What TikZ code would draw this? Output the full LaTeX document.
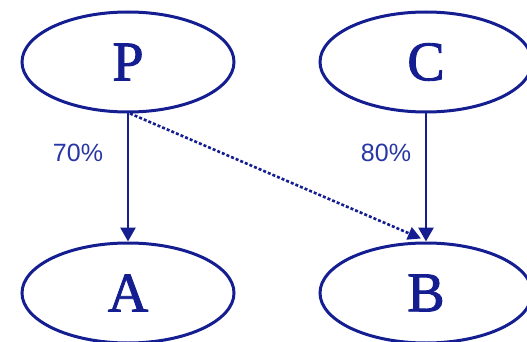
\documentclass[tikz,border=0pt]{standalone}
\usepackage{fontspec}
\setmainfont{Liberation Serif}
\newfontfamily\letterfont{Liberation Serif}[BoldFont={Liberation Serif},BoldFeatures={FakeBold=1.6}]
\newfontfamily\labelfont{Liberation Sans}
\usetikzlibrary{shapes.geometric,arrows.meta,calc}
\definecolor{navy}{RGB}{20,30,145}
\definecolor{labblue}{RGB}{40,55,165}
\tikzset{
  oval/.style={ellipse,draw=navy,line width=3pt,minimum width=212pt,minimum height=100pt,inner sep=0pt,text=navy,font=\letterfont\bfseries\fontsize{56}{56}\selectfont},
  solidarrow/.style={draw=navy,line width=2.8pt,-{Triangle[length=14pt,width=15pt]}},
  dotarrow/.style={draw=navy,line width=2.6pt,dash pattern=on 3pt off 2pt,-{Triangle[length=13pt,width=13pt]}},
  pct/.style={text=labblue,font=\labelfont\fontsize{25}{25}\selectfont,inner sep=0pt}
}
\begin{document}
\begin{tikzpicture}[x=1pt,y=-1pt]
\useasboundingbox (0,0) rectangle (527,342);
\begin{scope}
\clip (0,0) rectangle (527,342);
\node[oval] (P) at (128,62) {P};
\node[oval] (C) at (426,62) {C};
\node[oval] (A) at (128,293) {A};
\node[oval] (B) at (426,293) {B};
\coordinate (Pd) at ($(P.south)+(2,0)$);
\coordinate (Bd) at ($(B.north)+(-5,-3)$);
\draw[solidarrow] (P.south) -- (A.north);
\draw[solidarrow] (C.south) -- (B.north);
\draw[dotarrow] (Pd) -- (Bd);
\node[pct] (l70) at (78,153) {70\%};
\node[pct] (l80) at (386,153) {80\%};
\end{scope}
\end{tikzpicture}
\end{document}
